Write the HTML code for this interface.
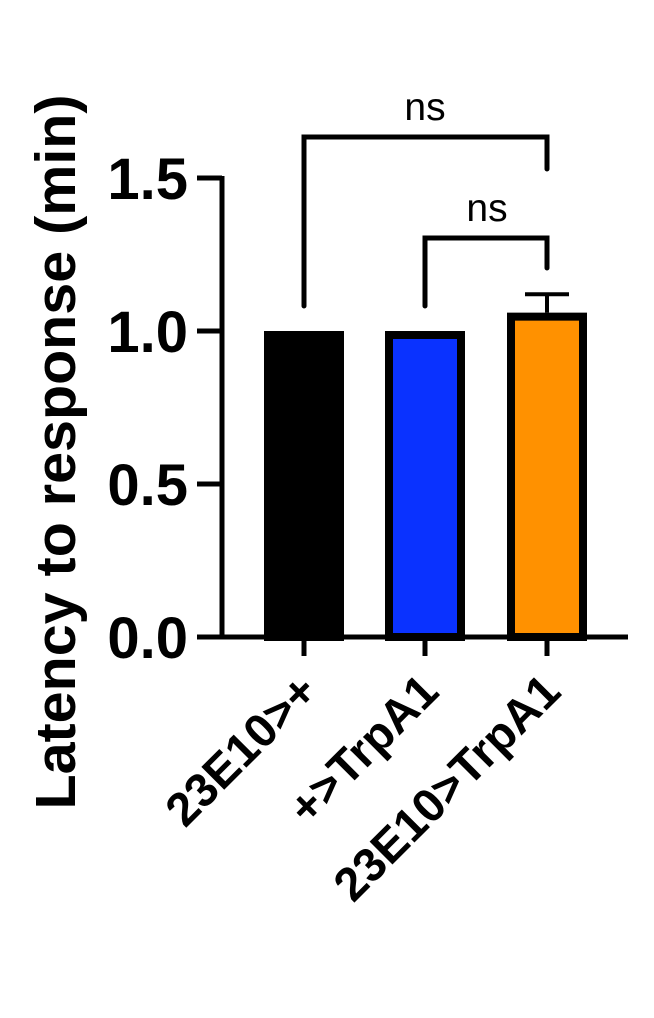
<!DOCTYPE html>
<html><head><meta charset="utf-8"><style>
html,body{margin:0;padding:0;background:#fff;}
svg{display:block;font-family:"Liberation Sans",Arial,sans-serif;}
</style></head><body>
<svg id="chart" width="654" height="1018" viewBox="0 0 654 1018" xmlns="http://www.w3.org/2000/svg">
<text transform="translate(75,452) rotate(-90)" text-anchor="middle" font-size="57" font-weight="bold" textLength="715" lengthAdjust="spacingAndGlyphs">Latency to response (min)</text>
<g id="axes"></g>
<g id="bars"></g>
<g id="annot"></g>
</svg>
<script>
const categories = ["23E10>+", "+>TrpA1", "23E10>TrpA1"];
const values = [1.0, 1.0, 1.06];
const errors = [0, 0, 0.06];
const colors = ["#000000", "#0a32ff", "#ff9100"];
const yTicks = [0, 0.5, 1.0, 1.5];
const yTickLabels = ["0.0", "0.5", "1.0", "1.5"];
const sigLabels = ["ns", "ns"];

const NS = "http://www.w3.org/2000/svg";
const y0 = 637, pxPerUnit = 306;
function yScale(v){ return y0 - v * pxPerUnit; }
const centers = [304, 425, 547];
function xScale(i){ return centers[i]; }
const barW = 80;

function mk(tag, attrs, parent){
  const e = document.createElementNS(NS, tag);
  for (const k in attrs) e.setAttribute(k, attrs[k]);
  parent.appendChild(e);
  return e;
}
const axes = document.getElementById('axes');
const bars = document.getElementById('bars');
const annot = document.getElementById('annot');

const yAxis = mk('line', {x1:222, x2:222, y1:yScale(1.5)-2, y2:y0+2, stroke:'#000','stroke-width':5}, axes);


const xAxis = mk('line', {x1:220, x2:628, y1:y0, y2:y0, stroke:'#000','stroke-width':5}, axes);



yTicks.forEach((t, i) => {
  const tk = mk('line', {x1:197, x2:222, y1:yScale(t), y2:yScale(t), stroke:'#000','stroke-width':5}, axes);
  
  
  const lb = mk('text', {x:188, y:yScale(t)+21, 'text-anchor':'end', 'font-size':58, 'font-weight':'bold'}, axes);
  lb.textContent = yTickLabels[i];
  
  
});

categories.forEach((c, i) => {
  const cx = xScale(i);
  const top = yScale(values[i]);
  const r = mk('rect', {x:cx-barW/2+4, y:top+4, width:barW-8, height:y0-top-4, fill:colors[i], stroke:'#000','stroke-width':8}, bars);
  
  
  if (errors[i] > 0) {
    const et = yScale(values[i] + errors[i]);
    const e1 = mk('line', {x1:cx, x2:cx, y1:top, y2:et, stroke:'#000','stroke-width':4}, bars);
    
    
    const e2 = mk('line', {x1:cx-22, x2:cx+22, y1:et, y2:et, stroke:'#000','stroke-width':4}, bars);
    
    
  }
  const xt = mk('line', {x1:cx, x2:cx, y1:y0, y2:y0+19, stroke:'#000','stroke-width':5}, axes);
  
  
  const lb = mk('text', {transform:'translate(' + (cx+16) + ',694) rotate(-45)', 'text-anchor':'end', 'font-size':47, 'font-weight':'bold'}, axes);
  lb.textContent = c;
  
  
});

// significance brackets
const brackets = [
  {a:0, b:2, top:137, la:306, lb:169, tx:425, ty:120},
  {a:1, b:2, top:238, la:306, lb:268, tx:487, ty:221}
];
brackets.forEach((br, i) => {
  const p = mk('polyline', {points: xScale(br.a)+','+br.la+' '+xScale(br.a)+','+br.top+' '+xScale(br.b)+','+br.top+' '+xScale(br.b)+','+br.lb, fill:'none', stroke:'#000','stroke-width':5,'stroke-linecap':'round'}, annot);
  
  
  const t = mk('text', {x:br.tx, y:br.ty, 'text-anchor':'middle', 'font-size':39}, annot);
  t.textContent = sigLabels[i];
  
  
});
</script>
</body></html>
